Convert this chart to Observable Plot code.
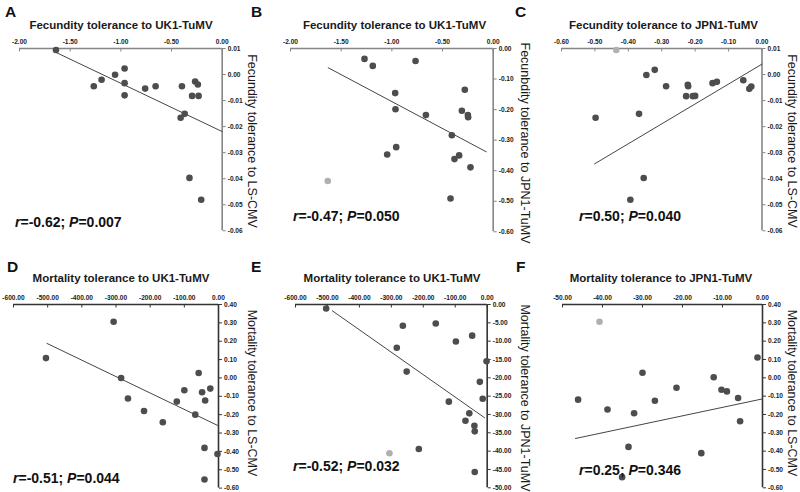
<!DOCTYPE html>
<html><head><meta charset="utf-8">
<script src="https://cdn.jsdelivr.net/npm/d3@7"></script>
<script src="https://cdn.jsdelivr.net/npm/@observablehq/plot@0.6"></script>
<style>
body{margin:0;background:#fff;}
#wrap{position:relative;width:800px;height:492px;overflow:hidden;background:#fff;font-family:"Liberation Sans",Arial,sans-serif;}
#wrap svg.plot{position:absolute;overflow:visible;}
#overlay{position:absolute;left:0;top:0;}
</style></head>
<body><div id="wrap"></div>
<script>
// ---- Panel A: fecundity UK1 vs LS-CMV
const xA = [-1.64,-1.267,-1.19,-1.057,-0.963,-0.963,-0.963,-0.76,-0.657,-0.397,-0.41,-0.37,-0.297,-0.267,-0.24,-0.233,-0.323,-0.207];
const yA = [0.0094,-0.0045,-0.0020,-0.0001,0.0023,-0.0033,-0.0080,-0.0054,-0.0045,-0.0045,-0.0166,-0.0151,-0.0082,-0.0027,-0.0038,-0.0082,-0.0397,-0.0481];
const lightA = [];
const fitA = [[-1.64,0.0085],[0,-0.0219]];
// ---- Panel B: fecundity UK1 vs JPN1
const xB = [-1.27,-1.188,-0.766,-0.967,-0.964,-0.957,-1.046,-0.664,-0.28,-0.309,-0.25,-0.247,-0.408,-0.336,-0.382,-0.224,-0.421,-1.632];
const yB = [-0.034,-0.057,-0.041,-0.146,-0.199,-0.323,-0.347,-0.218,-0.135,-0.204,-0.218,-0.225,-0.284,-0.350,-0.362,-0.389,-0.491,-0.434];
const lightB = [17];
const fitB = [[-1.628,-0.063],[-0.069,-0.338]];
// ---- Panel C: fecundity JPN1 vs LS-CMV
const xC = [-0.436,-0.321,-0.346,-0.287,-0.222,-0.221,-0.227,-0.207,-0.200,-0.148,-0.135,-0.056,-0.038,-0.032,-0.498,-0.368,-0.354,-0.394];
const yC = [0.0094,0.0018,-0.0002,-0.0045,-0.0039,-0.0045,-0.0083,-0.0083,-0.0082,-0.0033,-0.0028,-0.0022,-0.0055,-0.0046,-0.0166,-0.0151,-0.0397,-0.0481];
const lightC = [0];
const fitC = [[-0.501,-0.0343],[0,0.004]];
// ---- Panel D: mortality UK1 vs LS-CMV
const xD = [-307,-505,-285,-265,-218,-163,-100,-122,-68,-58,-48,-39,-24,-41,-3,-41];
const yD = [0.306,0.108,0.000,-0.112,-0.180,-0.241,-0.067,-0.129,-0.200,0.027,-0.078,-0.123,-0.058,-0.381,-0.414,-0.553];
const lightD = [];
const fitD = [[-502,0.188],[0,-0.261]];
// ---- Panel E: mortality UK1 vs JPN1
const xE = [-504,-264,-161,-47,-98,-283,-252,-2,-23,-14,-120,-56,-68,-40,-39,-214,-306,-39];
const yE = [-1.1,-5.8,-5.2,-8.5,-10.1,-11.8,-18.3,-15.5,-21.1,-25.7,-26.5,-29.7,-31.7,-33.1,-34.6,-39.4,-40.6,-45.7];
const lightE = [16];
const fitE = [[-485,-1.7],[-8,-30.9]];
// ---- Panel F: mortality JPN1 vs LS-CMV
const xF = [-40.75,-1.25,-30,-12.2,-21.5,-10.25,-8.9,-6.1,-46.1,-26.9,-38.75,-32.1,-5.6,-33.5,-15.3,-35.1];
const yF = [0.306,0.111,0.028,0.003,-0.054,-0.065,-0.074,-0.11,-0.119,-0.125,-0.173,-0.193,-0.237,-0.377,-0.411,-0.542];
const lightF = [0];
const fitF = [[-46.75,-0.331],[0,-0.115]];

// ---- tick labels
const ticksFecUK = [-2.0,-1.5,-1.0,-0.5,0];
const ticksFecJPN = [-0.6,-0.5,-0.4,-0.3,-0.2,-0.1,0];
const ticksFecLS = [0.01,0.00,-0.01,-0.02,-0.03,-0.04,-0.05,-0.06];
const ticksFecJPNy = [0,-0.1,-0.2,-0.3,-0.4,-0.5,-0.6];
const ticksMortUK = [-600,-500,-400,-300,-200,-100,0];
const ticksMortJPN = [-50,-40,-30,-20,-10,0];
const ticksMortLS = [0.4,0.3,0.2,0.1,0,-0.1,-0.2,-0.3,-0.4,-0.5,-0.6];
const ticksMortJPNy = [0,-5,-10,-15,-20,-25,-30,-35,-40,-45,-50];

// ---- texts
const letters = ["A","B","C","D","E","F"];
const topTitles = ["Fecundity tolerance to UK1-TuMV","Fecundity tolerance to UK1-TuMV","Fecundity tolerance to JPN1-TuMV",
  "Mortality tolerance to UK1-TuMV","Mortality tolerance to UK1-TuMV","Mortality tolerance to JPN1-TuMV"];
const sideTitles = ["Fecundity tolerance to LS-CMV","Fecunbdity tolerance to JPN1-TuMV","Fecundity tolerance to LS-CMV",
  "Mortality tolerance to LS-CMV","Mortality tolerance to JPN1-TuMV","Mortality tolerance to LS-CMV"];
const rValues = ["-0.62","-0.47","0.50","-0.51","-0.52","0.25"];
const pValues = ["0.007","0.050","0.040","0.044","0.032","0.346"];

const panels = [
  {xs:xA, ys:yA, light:lightA, fit:fitA, xd:[-2,0], yd:[-0.06,0.01], xt:ticksFecUK, yt:ticksFecLS, f:[19,221.7,47.7,230], ax:"#858585"},
  {xs:xB, ys:yB, light:lightB, fit:fitB, xd:[-2,0], yd:[-0.6,0], xt:ticksFecUK, yt:ticksFecJPNy, f:[290,492.7,47.7,231], ax:"#858585"},
  {xs:xC, ys:yC, light:lightC, fit:fitC, xd:[-0.6,0], yd:[-0.06,0.01], xt:ticksFecJPN, yt:ticksFecLS, f:[561,761.5,47.7,230], ax:"#858585"},
  {xs:xD, ys:yD, light:lightD, fit:fitD, xd:[-600,0], yd:[-0.6,0.4], xt:ticksMortUK, yt:ticksMortLS, f:[13.3,218.3,303.7,487.3], ax:"#333"},
  {xs:xE, ys:yE, light:lightE, fit:fitE, xd:[-600,0], yd:[-50,0], xt:ticksMortUK, yt:ticksMortJPNy, f:[295,486.7,304,487.3], ax:"#333"},
  {xs:xF, ys:yF, light:lightF, fit:fitF, xd:[-50,0], yd:[-0.6,0.4], xt:ticksMortJPN, yt:ticksMortLS, f:[562.3,762.3,304,487.3], ax:"#333"}
];
const layout = {
  letter:[[5,17],[251,17],[515,17],[7,272],[251,272],[516,272]],
  title:[[121,29],[394.5,29],[663.5,29],[121,282],[392,282],[661,282]],
  side:[[248,141],[521,143],[788,141],[248,393],[521,398],[788,393]],
  note:[[15,227],[293,221],[579,221],[13,483],[293,471],[579,475]]
};

const wrap = document.getElementById("wrap");
const fmt = d => d.toFixed(2);
const ml=12, mr=40, mt=22, mb=8;

panels.forEach((p,i)=>{
  const [x0,x1,y0,y1] = p.f;
  const pts = p.xs.map((x,j)=>({x, y:p.ys[j], light:p.light.includes(j)}));
  const fit = p.fit.map(([x,y])=>({x,y}));
  const svg = Plot.plot({
    width: (x1-x0)+ml+mr, height:(y1-y0)+mt+mb,
    marginLeft:ml, marginRight:mr, marginTop:mt, marginBottom:mb,
    x:{domain:p.xd}, y:{domain:p.yd},
    style:{fontFamily:"'Liberation Sans', Arial, sans-serif", fontSize:"6.6px", fontWeight:"bold", color:"#1a1a1a", background:"transparent", overflow:"visible"},
    marks:[
      Plot.axisX(p.xt, {anchor:"top", tickSize:-2.5, tickPadding:6.5, tickFormat:fmt, label:null, stroke:p.ax}),
      Plot.axisY(p.yt, {anchor:"right", tickSize:3, tickPadding:2.5, tickFormat:fmt, label:null, stroke:p.ax}),
      Plot.ruleY([p.yd[1]], {stroke:p.ax, strokeWidth:1.6}),
      Plot.ruleX([0], {stroke:p.ax, strokeWidth:1.6}),
      Plot.line(fit, {x:"x", y:"y", stroke:"#444", strokeWidth:1}),
      Plot.dot(pts, {x:"x", y:"y", r:3.3, fill:d=>d.light?"#b0b0b0":"#4d4d4d", stroke:null})
    ]
  });
  svg.classList.add("plot");
  svg.style.left = (x0-ml)+"px";
  svg.style.top = (y0-mt)+"px";
  wrap.appendChild(svg);
});

// overlay texts
const ov = d3.select(wrap).append("svg").attr("id","overlay").attr("width",800).attr("height",492)
  .style("font-family","'Liberation Sans', Arial, sans-serif");
letters.forEach((t,i)=>{
  ov.append("text").attr("x",layout.letter[i][0]).attr("y",layout.letter[i][1])
    .attr("font-size",15.5).attr("font-weight","bold").attr("fill","#111").text(t);
});
topTitles.forEach((t,i)=>{
  ov.append("text").attr("x",layout.title[i][0]).attr("y",layout.title[i][1])
    .attr("text-anchor","middle").attr("font-size",11.5).attr("font-weight","bold").attr("fill","#1a1a1a").text(t);
});
sideTitles.forEach((t,i)=>{
  const [x,y]=layout.side[i];
  ov.append("text").attr("transform",`translate(${x},${y}) rotate(90)`)
    .attr("text-anchor","middle").attr("font-size",12.5).attr("fill","#1a1a1a").text(t);
});
rValues.forEach((r,i)=>{
  const [x,y]=layout.note[i];
  const t = ov.append("text").attr("x",x).attr("y",y).attr("font-size",14).attr("font-weight","bold").attr("fill","#111");
  t.append("tspan").attr("font-style","italic").text("r");
  t.append("tspan").text("="+r+"; ");
  t.append("tspan").attr("font-style","italic").text("P");
  t.append("tspan").text("="+pValues[i]);
});
</script></body></html>
